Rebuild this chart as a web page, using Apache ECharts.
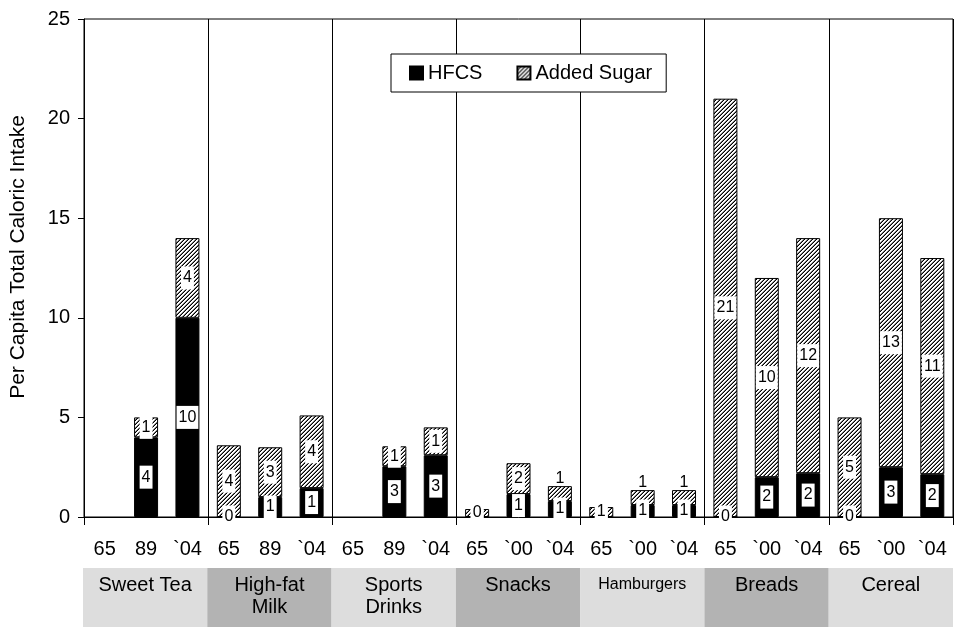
<!DOCTYPE html>
<html>
<head>
<meta charset="utf-8">
<script src="https://cdn.jsdelivr.net/npm/echarts@6/dist/echarts.min.js"></script>
<style>
html,body{margin:0;padding:0;background:#fff;}
#c{width:968px;height:638px;}
</style>
</head>
<body>
<div id="c"></div>
<script>
// ---- data ----
var years = ['65','89','`04','65','89','`04','65','89','`04','65','`00','`04','65','`00','`04','65','`00','`04','65','`00','`04'];
var groups = ['Sweet Tea','High-fat\nMilk','Sports\nDrinks','Snacks','Hamburgers','Breads','Cereal'];
var hfcs = [null,4,10, 0,1,1.45, null,2.55,3.1, 0,1.15,0.8, 0,0.6,0.6, 0,2,2.2, 0,2.5,2.15];
var addedSugar = [null,1,4, 3.6,2.5,3.65, null,1,1.4, 0.4,1.55,0.75, 0.5,0.75,0.75, 21,10,11.8, 5,12.5,10.85];
var groupBand = [1,1,1,1,1,1,1];
var yTicks = {min:0, max:25, interval:5};

var FONT = 'Liberation Sans, Arial, sans-serif';

// hatch pattern (upward diagonal lines)
var T = 4;
var tile = document.createElement('canvas');
tile.width = T; tile.height = T;
var tctx = tile.getContext('2d');
tctx.fillStyle = '#fff'; tctx.fillRect(0,0,T,T);
for (var x=0;x<T;x++){ for (var y=0;y<T;y++){
  var s=(x+y)%T;
  if (s===3){ tctx.fillStyle='#000'; tctx.fillRect(x,y,1,1); }
  else if (s===2){ tctx.fillStyle='#7a7a7a'; tctx.fillRect(x,y,1,1); }
} }
var hatch = {image: tile, repeat: 'repeat'};

var chart = echarts.init(document.getElementById('c'), null, {renderer:'canvas'});
function groupTick(i){ return i % 3 === 0; }
var barLabel = {
  show:true, position:'inside', color:'#000', backgroundColor:'#fff',
  fontFamily:FONT, fontSize:16, padding:[4,2,3,2],
  formatter:function(p){ return p.value==null ? '' : String(Math.round(p.value)); }
};
var bandColors = ['#dddddd','#b3b3b3'];
// small added-sugar segments sitting on a non-zero HFCS segment: label above the bar
var addedData = addedSugar.map(function(v,i){
  if (v != null && v < 1 && hfcs[i] > 0) {
    return {value:v, label:{position:'top', distance:0, backgroundColor:'transparent', padding:0}};
  }
  return v;
});
chart.setOption({
  animation:false,
  textStyle:{fontFamily:FONT},
  legend:{
    left:391, top:54, orient:'horizontal', icon:'rect',
    padding:[9,14,9,18], itemGap:34, itemWidth:13, itemHeight:13,
    borderColor:'#000', borderWidth:1, backgroundColor:'#fff',
    textStyle:{fontFamily:FONT, fontSize:20, color:'#000'},
    data:['HFCS','Added Sugar']
  },
  grid:[
    {left:83, right:15, top:19, bottom:121, show:true, borderColor:'#000', borderWidth:1, containLabel:false},
    {left:83, right:15, top:568, height:59}
  ],
  xAxis:[
    {type:'category', gridIndex:0, data:years,
     axisLine:{lineStyle:{color:'#000'}},
     axisTick:{show:true, interval:groupTick, length:8, lineStyle:{color:'#000'}},
     splitLine:{show:true, interval:groupTick, lineStyle:{color:'#000', width:1}},
     axisLabel:{interval:0, color:'#000', fontSize:20, fontFamily:FONT, margin:22}
    },
    {type:'category', gridIndex:1, data:groups, show:false}
  ],
  yAxis:[
    {type:'value', gridIndex:0, min:yTicks.min, max:yTicks.max, interval:yTicks.interval,
     name:'Per Capita Total Caloric Intake', nameLocation:'middle', nameGap:55,
     nameTextStyle:{color:'#000', fontSize:21, fontFamily:FONT, padding:[0,0,0,22]},
     axisLine:{show:true, lineStyle:{color:'#000'}},
     axisTick:{show:true, length:6, lineStyle:{color:'#000'}},
     splitLine:{show:false},
     axisLabel:{color:'#000', fontSize:20, fontFamily:FONT, margin:14}
    },
    {type:'value', gridIndex:1, min:0, max:1, show:false}
  ],
  series:[
    {name:'HFCS', type:'bar', stack:'a', xAxisIndex:0, yAxisIndex:0, data:hfcs, barWidth:24,
     itemStyle:{color:'#000', borderColor:'#000', borderWidth:1}, label:barLabel},
    {name:'Added Sugar', type:'bar', stack:'a', xAxisIndex:0, yAxisIndex:0, data:addedData, barWidth:24,
     itemStyle:{color:hatch, borderColor:'#000', borderWidth:1}, label:barLabel},
    {name:'band', type:'bar', xAxisIndex:1, yAxisIndex:1, barWidth:'100%', silent:true,
     data:groupBand.map(function(v,i){
       return {value:v, itemStyle:{color:bandColors[i%2]},
         label: i===4 ? {fontSize:16, distance:6} : undefined};
     }),
     label:{show:true, position:'insideTop', distance:6, color:'#000', fontSize:20, lineHeight:22, fontFamily:FONT,
       formatter:function(p){ return groups[p.dataIndex]; }}
    }
  ]
});
</script>
</body>
</html>
